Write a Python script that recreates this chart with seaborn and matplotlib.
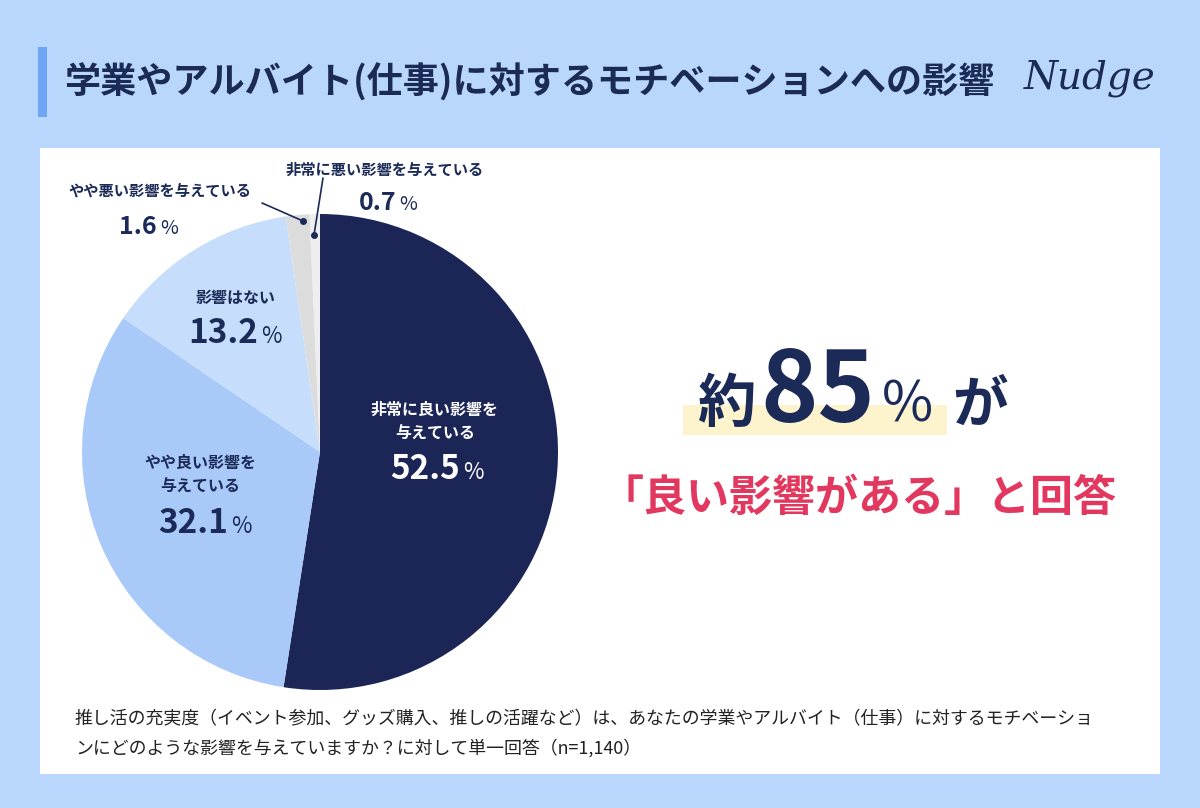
import matplotlib
matplotlib.use("Agg")
import matplotlib.pyplot as plt
from matplotlib.patches import Rectangle
import seaborn as sns

# ---------------------------
# Data
# ---------------------------
categories = ["非常に良い影響を\n与えている", "やや良い影響を\n与えている", "影響はない",
              "やや悪い影響を与えている", "非常に悪い影響を与えている"]
shares = [52.5, 32.1, 13.2, 1.6, 0.7]
share_labels = ["52.5", "32.1", "13.2", "1.6", "0.7"]
colors = ["#1b2556", "#a9c9f9", "#c6defc", "#dcdcdc", "#eeeeee"]

title = "学業やアルバイト(仕事)に対するモチベーションへの影響"
note = ("推し活の充実度（イベント参加、グッズ購入、推しの活躍など）は、あなたの学業やアルバイト（仕事）に対するモチベーショ\n"
        "ンにどのような影響を与えていますか？に対して単一回答（n=1,140）")

navy = "#1b2a57"
red = "#e2375f"
bg_blue = "#b9d7fc"

# ---------------------------
# Theme
# ---------------------------
sns.set_theme(style="white")
plt.rcParams["font.family"] = ["Noto Sans CJK JP", "DejaVu Sans"]

W, H = 1200, 808
fig = plt.figure(figsize=(W / 100, H / 100), dpi=100)
fig.patch.set_facecolor(bg_blue)

# background layer in pixel coords
bg = fig.add_axes([0, 0, 1, 1], zorder=0)
bg.set_xlim(0, W)
bg.set_ylim(H, 0)
bg.axis("off")
bg.add_patch(Rectangle((38, 47), 9, 70, color="#6fa6f4", lw=0))
bg.add_patch(Rectangle((40, 148), 1120, 626, color="white", lw=0))
bg.add_patch(Rectangle((683, 405), 264, 30, color="#fdf3cd", lw=0))

# ---------------------------
# Pie
# ---------------------------
cx, cy, r = 320, 452, 238
pax = fig.add_axes([(cx - r) / W, (H - cy - r) / H, 2 * r / W, 2 * r / H], zorder=1)
pax.pie(shares, colors=colors, startangle=90, counterclock=False,
        wedgeprops=dict(linewidth=0))
pax.set_xlim(-1, 1)
pax.set_ylim(-1, 1)
pax.set_aspect("equal")
pax.axis("off")

# ---------------------------
# Text overlay
# ---------------------------
ov = fig.add_axes([0, 0, 1, 1], zorder=2)
ov.set_xlim(0, W)
ov.set_ylim(H, 0)
ov.axis("off")
ov.patch.set_alpha(0)

ov.text(64, 82, title, fontsize=26, fontweight="bold", color=navy, va="center", ha="left")
ov.text(1090, 78, "Nudge", fontsize=28, color=navy, va="center", ha="center",
        family="DejaVu Serif", fontstyle="italic")


def pct(x, y, num, size, color, pct_size):
    t = ov.text(x, y, num, fontsize=size, fontweight="bold", color=color,
                ha="right", va="baseline")
    ov.text(x + 3, y, "%", fontsize=pct_size, color=color, ha="left", va="baseline")
    return t


# 52.5%
ov.text(435, 422, categories[0], fontsize=11.5, fontweight="bold", color="white",
        ha="center", va="center", linespacing=1.6)
pct(460, 479, share_labels[0], 24, "white", 16)
# 32.1%
ov.text(200, 475, categories[1], fontsize=11.5, fontweight="bold", color=navy,
        ha="center", va="center", linespacing=1.6)
pct(228, 533, share_labels[1], 24, navy, 16)
# 13.2%
ov.text(236, 298, categories[2], fontsize=11.5, fontweight="bold", color=navy,
        ha="center", va="center")
pct(258, 343, share_labels[2], 24, navy, 16)
# 1.6%
ov.text(160, 192, categories[3], fontsize=11, fontweight="bold", color=navy,
        ha="center", va="center")
pct(157, 234, share_labels[3], 18, navy, 14)
# 0.7%
ov.text(385, 170, categories[4], fontsize=11, fontweight="bold", color=navy,
        ha="center", va="center")
pct(396, 210, share_labels[4], 18, navy, 14)

# leader lines
ov.plot([262, 303], [203, 221], color=navy, lw=1.2)
ov.plot([303], [221], "o", color=navy, ms=4)
ov.plot([323, 314], [178, 235], color=navy, lw=1.2)
ov.plot([314], [235], "o", color=navy, ms=4)

# headline
ov.text(697, 422, "約", fontsize=42, fontweight="bold", color=navy, ha="left", va="baseline")
ov.text(760, 422, "85", fontsize=70, fontweight="bold", color=navy, ha="left", va="baseline")
ov.text(882, 422, "%", fontsize=40, color=navy, ha="left", va="baseline")
ov.text(952, 422, "が", fontsize=40, fontweight="bold", color=navy, ha="left", va="baseline")
ov.text(858, 498, "「良い影響がある」と回答", fontsize=31, fontweight="bold", color=red,
        ha="center", va="center")

ov.text(75, 734, note, fontsize=12.9, color="#222222", ha="left", va="center", linespacing=1.7)

fig.savefig("out.png", dpi=100, facecolor=fig.get_facecolor())
